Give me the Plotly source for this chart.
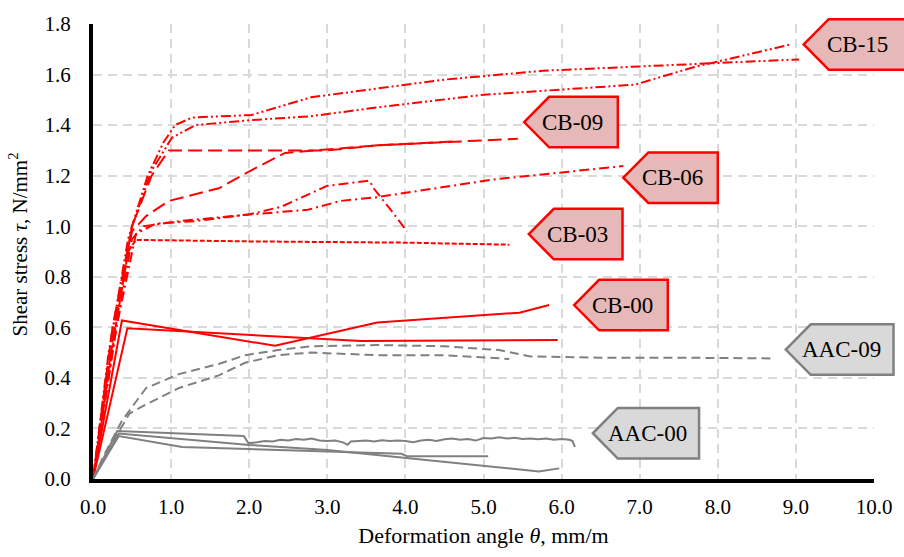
import plotly.graph_objects as go

# ---------------- data ----------------
cb15_a_x = [0, 0.2, 0.45, 0.7, 0.9, 1.05, 1.27, 2.03, 2.79, 3.64, 4.5, 5.76, 7.7, 9.04]
cb15_a_y = [0, 0.5, 0.95, 1.2, 1.33, 1.40, 1.43, 1.44, 1.51, 1.545, 1.58, 1.615, 1.64, 1.66]
cb15_b_x = [0, 0.25, 0.5, 0.75, 1.01, 1.31, 2.03, 2.79, 3.64, 5.0, 6.94, 7.7, 8.95]
cb15_b_y = [0, 0.55, 1.0, 1.22, 1.35, 1.40, 1.42, 1.435, 1.47, 1.52, 1.56, 1.63, 1.72]

cb09_a_x = [0, 0.25, 0.5, 0.75, 0.97, 3.0, 3.64, 5.44]
cb09_a_y = [0, 0.6, 1.0, 1.2, 1.30, 1.30, 1.32, 1.346]
cb09_b_x = [0, 0.3, 0.5, 0.68, 0.97, 1.61, 2.08, 2.46, 3.64, 4.6]
cb09_b_y = [0, 0.65, 0.98, 1.04, 1.10, 1.15, 1.23, 1.29, 1.32, 1.335]

cb06_a_x = [0, 0.3, 0.5, 0.65, 1.1, 1.95, 2.75, 3.17, 3.64, 4.44, 5.13, 6.79]
cb06_a_y = [0, 0.6, 0.95, 1.0, 1.02, 1.045, 1.065, 1.10, 1.115, 1.154, 1.185, 1.238]
cb06_b_x = [0, 0.3, 0.55, 0.8, 1.3, 1.99, 2.41, 3.0, 3.54, 3.6, 3.8, 4.02]
cb06_b_y = [0, 0.6, 0.97, 1.01, 1.02, 1.046, 1.077, 1.16, 1.18, 1.147, 1.07, 0.98]

cb03_x = [0, 0.3, 0.45, 0.55, 2.0, 4.0, 5.33]
cb03_y = [0, 0.62, 0.9, 0.946, 0.94, 0.935, 0.927]

cb00_a_x = [0, 0.37, 2.33, 3.64, 5.46, 5.84]
cb00_a_y = [0, 0.627, 0.527, 0.619, 0.658, 0.688]
cb00_b_x = [0, 0.44, 3.43, 5.95]
cb00_b_y = [0, 0.596, 0.546, 0.55]

aac09_a_x = [0, 0.15, 0.37, 0.68, 1.1, 1.61, 1.95, 2.37, 2.79, 3.64, 4.5, 5.2, 5.6, 6.5, 7.5, 8.7]
aac09_a_y = [0, 0.1, 0.23, 0.36, 0.415, 0.455, 0.49, 0.51, 0.525, 0.53, 0.525, 0.51, 0.485, 0.48, 0.48, 0.477]
aac09_b_x = [0, 0.2, 0.47, 0.68, 1.1, 1.61, 1.95, 2.37, 2.79, 3.64, 4.49, 5.33]
aac09_b_y = [0, 0.12, 0.26, 0.295, 0.36, 0.41, 0.46, 0.49, 0.50, 0.49, 0.49, 0.475]

aac00_a_x = [0, 0.31, 1.93, 1.99, 2.1, 2.2, 2.3, 2.4, 2.5, 2.6, 2.7, 2.8, 2.9, 3.0, 3.1, 3.2,
             3.26, 3.3, 3.4, 3.5, 3.6, 3.7, 3.8, 3.9, 4.0, 4.1, 4.2, 4.3, 4.4, 4.5, 4.6, 4.7,
             4.8, 4.9, 5.0, 5.1, 5.2, 5.3, 5.4, 5.5, 5.6, 5.7, 5.8, 5.9, 6.0, 6.1, 6.14, 6.16, 6.17]
aac00_a_y = [0, 0.19, 0.17, 0.142, 0.145, 0.15, 0.148, 0.155, 0.152, 0.158, 0.155, 0.16, 0.152,
             0.15, 0.152, 0.145, 0.135, 0.148, 0.15, 0.152, 0.148, 0.153, 0.15, 0.152, 0.15,
             0.145, 0.152, 0.155, 0.15, 0.157, 0.16, 0.155, 0.158, 0.152, 0.162, 0.16, 0.165,
             0.16, 0.163, 0.158, 0.16, 0.157, 0.16, 0.155, 0.158, 0.155, 0.15, 0.135, 0.127]
aac00_b_x = [0, 0.33, 1.14, 3.0, 3.95, 4.02, 5.06]
aac00_b_y = [0, 0.17, 0.127, 0.11, 0.10, 0.09, 0.09]
aac00_c_x = [0, 0.33, 2.0, 3.0, 5.71, 5.97]
aac00_c_y = [0, 0.18, 0.135, 0.115, 0.03, 0.042]

# callout labels: text, tip x, tip y, right edge x (data units)
label_text = ["CB-15", "CB-09", "CB-06", "CB-03", "CB-00", "AAC-09", "AAC-00"]
label_tip_x = [9.10, 5.52, 6.79, 5.58, 6.16, 8.87, 6.40]
label_tip_y = [1.719, 1.412, 1.192, 0.969, 0.688, 0.512, 0.181]
label_right_x = [10.45, 6.72, 8.0, 6.78, 7.36, 10.25, 7.76]
label_group = ["CB", "CB", "CB", "CB", "CB", "AAC", "AAC"]

x_ticks = [0, 1, 2, 3, 4, 5, 6, 7, 8, 9, 10]
y_ticks = [0, 0.2, 0.4, 0.6, 0.8, 1.0, 1.2, 1.4, 1.6, 1.8]

# ---------------- styling ----------------
RED = "#ff0000"
GRAY = "#808080"
XMAX, YMAX = 10.0, 1.8
SERIF = "Liberation Serif, Times New Roman, serif"

fig = go.Figure()

def add(x, y, color, dash, width=2):
    fig.add_trace(go.Scatter(x=x, y=y, mode="lines",
                             line=dict(color=color, dash=dash, width=width),
                             showlegend=False, hoverinfo="skip"))

dd = "10px,3px,2px,3px,2px,3px"
add(cb15_a_x, cb15_a_y, RED, dd)
add(cb15_b_x, cb15_b_y, RED, dd)
add(cb09_a_x, cb09_a_y, RED, "14px,6px")
add(cb09_b_x, cb09_b_y, RED, "14px,6px")
add(cb06_a_x, cb06_a_y, RED, "10px,4px,2px,4px")
add(cb06_b_x, cb06_b_y, RED, "10px,4px,2px,4px")
add(cb03_x, cb03_y, RED, "5px,2px")
add(cb00_a_x, cb00_a_y, RED, "solid")
add(cb00_b_x, cb00_b_y, RED, "solid")
add(aac09_a_x, aac09_a_y, GRAY, "9px,5px")
add(aac09_b_x, aac09_b_y, GRAY, "9px,5px")
add(aac00_a_x, aac00_a_y, GRAY, "solid")
add(aac00_b_x, aac00_b_y, GRAY, "solid")
add(aac00_c_x, aac00_c_y, GRAY, "solid")

# callout shapes in paper coordinates (derived from data units)
SHOULDER = 0.32   # x data units
HALF_H = 0.10     # y data units

def px(v):
    return v / XMAX

def py(v):
    return v / YMAX

shapes = []
annotations = []
for t, tx, ty, rx, g in zip(label_text, label_tip_x, label_tip_y, label_right_x, label_group):
    path = (f"M {px(tx)},{py(ty)} L {px(tx + SHOULDER)},{py(ty + HALF_H)} "
            f"L {px(rx)},{py(ty + HALF_H)} L {px(rx)},{py(ty - HALF_H)} "
            f"L {px(tx + SHOULDER)},{py(ty - HALF_H)} Z")
    fill = "#e6b8b7" if g == "CB" else "#d9d9d9"
    edge = RED if g == "CB" else GRAY
    shapes.append(dict(type="path", path=path, xref="paper", yref="paper",
                       fillcolor=fill, line=dict(color=edge, width=2.5), layer="above"))
    annotations.append(dict(x=px((tx + rx) / 2 + 0.02), y=py(ty), xref="paper", yref="paper",
                            text=t, showarrow=False,
                            font=dict(family=SERIF, size=23, color="black"),
                            xanchor="center", yanchor="middle"))

# y-axis title as a rotated annotation (slightly above the plot centre, as in the reference)
annotations.append(dict(x=-0.095, y=0.515, xref="paper", yref="paper",
                        text="Shear stress <i>τ</i>, N/mm<sup>2</sup>", textangle=-90,
                        showarrow=False, xanchor="center", yanchor="middle",
                        font=dict(family=SERIF, size=21, color="black")))

fig.update_layout(
    width=904, height=557,
    margin=dict(l=93, r=24, t=12, b=77),
    paper_bgcolor="white", plot_bgcolor="white",
    font=dict(family=SERIF, size=21, color="black"),
    shapes=shapes, annotations=annotations,
    showlegend=False,
)
fig.update_xaxes(range=[0, XMAX], tickvals=x_ticks, tickformat=".1f",
                 tickfont=dict(family=SERIF, size=21),
                 showgrid=True, gridcolor="#d9d9d9", gridwidth=2, griddash="9px,6px",
                 showline=True, linecolor="black", linewidth=4, zeroline=False,
                 ticks="", ticklabelstandoff=6,
                 title=dict(text="Deformation angle <i>θ</i>, mm/m", standoff=10,
                            font=dict(family=SERIF, size=22)))
fig.update_yaxes(range=[0, YMAX], tickvals=y_ticks, tickformat=".1f",
                 tickfont=dict(family=SERIF, size=21),
                 showgrid=True, gridcolor="#d9d9d9", gridwidth=2, griddash="9px,6px",
                 showline=True, linecolor="black", linewidth=4, zeroline=False,
                 ticks="", ticklabelstandoff=14)

fig.write_html("out.html")
